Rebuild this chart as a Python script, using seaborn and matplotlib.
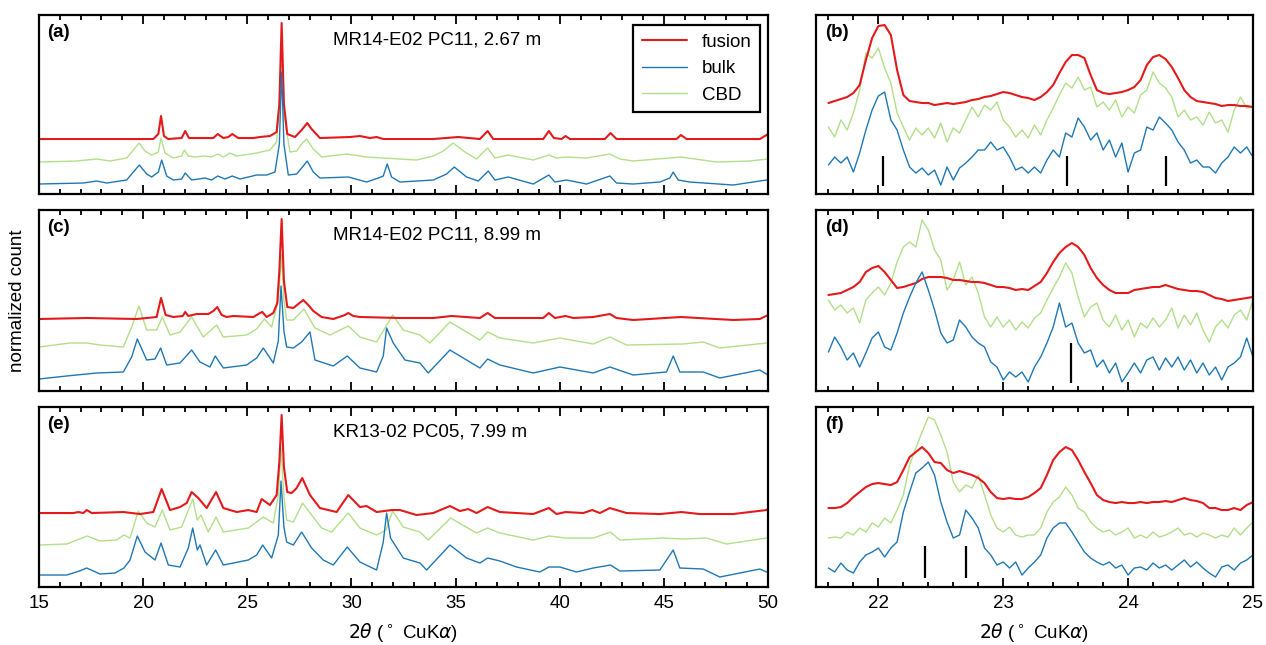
import numpy as np
import seaborn as sns
import matplotlib.pyplot as plt
from matplotlib.ticker import MultipleLocator
from matplotlib.lines import Line2D

sns.set_style("ticks")
plt.rcParams["font.family"] = ["Liberation Sans", "DejaVu Sans"]
plt.rcParams["font.size"] = 13.5
plt.rcParams["text.color"] = "black"
plt.rcParams["axes.labelcolor"] = "black"
plt.rcParams["xtick.color"] = "black"
plt.rcParams["ytick.color"] = "black"

# ---- full scans, (2theta, count) vertices ----
a_fusion = [(15.0, 55), (20.49, 55), (20.73, 60), (20.86, 78), (21.0, 58), (21.2, 55), (21.85, 56),
            (22.02, 63), (22.2, 56), (23.37, 56), (23.58, 60), (23.85, 56), (24.09, 57), (24.28, 60),
            (24.57, 56), (25.29, 56), (25.61, 57), (26.09, 58), (26.41, 62), (26.54, 90), (26.65, 171),
            (26.76, 90), (26.92, 60), (27.29, 57), (27.61, 64), (27.88, 71), (28.09, 65), (28.49, 56),
            (29.93, 57), (30.41, 58), (30.89, 56), (31.21, 57), (31.53, 55), (33.93, 55), (35.13, 57),
            (36.17, 55), (36.54, 63), (36.81, 55), (39.21, 55), (39.48, 63), (39.72, 56), (40.09, 55),
            (40.28, 58), (40.49, 55), (42.17, 55), (42.44, 61), (42.73, 55), (45.61, 55), (45.82, 59),
            (46.09, 55), (49.61, 55), (49.93, 59), (50.0, 60)]
a_cbd = [(15.0, 32), (16.81, 33), (17.77, 35), (18.41, 33), (19.21, 36), (19.61, 46), (19.8, 51),
         (20.09, 43), (20.41, 39), (20.73, 42), (20.86, 56), (21.05, 41), (21.45, 36), (21.85, 38),
         (21.98, 44), (22.17, 38), (22.49, 37), (22.97, 38), (23.29, 37), (23.58, 40), (23.85, 37),
         (24.17, 41), (24.49, 38), (25.45, 41), (26.09, 44), (26.41, 52), (26.57, 100), (26.65, 130),
         (26.76, 80), (27.05, 42), (27.37, 43), (27.61, 50), (27.85, 55), (28.17, 45), (28.57, 37),
         (29.77, 40), (30.73, 37), (33.13, 34), (33.93, 38), (34.41, 43), (34.89, 51), (35.45, 42),
         (36.01, 35), (36.54, 46), (36.89, 36), (37.53, 39), (38.73, 34), (39.48, 39), (39.85, 36),
         (40.28, 37), (41.29, 36), (42.41, 40), (42.89, 35), (43.53, 33), (45.82, 37), (47.53, 32),
         (49.13, 33), (50.0, 35)]
a_bulk = [(15.0, 10), (17.13, 11), (17.77, 13), (18.25, 11), (19.21, 14), (19.53, 22), (19.82, 29),
          (20.17, 20), (20.41, 17), (20.73, 22), (20.89, 34), (21.13, 18), (21.45, 14), (21.85, 15),
          (22.02, 21), (22.33, 14), (22.97, 16), (23.29, 14), (23.58, 18), (23.93, 15), (24.28, 18),
          (24.65, 15), (25.45, 19), (25.93, 19), (26.33, 22), (26.54, 50), (26.65, 122), (26.76, 50),
          (26.97, 19), (27.37, 20), (27.69, 28), (27.88, 33), (28.17, 22), (28.49, 16), (29.85, 17),
          (30.73, 12), (31.29, 16), (31.53, 18), (31.72, 30), (31.93, 17), (32.33, 12), (33.93, 14),
          (34.57, 20), (34.94, 27), (35.53, 17), (36.09, 13), (36.57, 23), (36.89, 14), (37.53, 17),
          (38.73, 10), (39.48, 19), (39.77, 12), (40.33, 14), (41.29, 10), (42.41, 18), (42.73, 11),
          (43.53, 10), (44.81, 12), (45.29, 16), (45.45, 22), (45.69, 14), (46.25, 12), (48.33, 9),
          (49.93, 14), (50.0, 14)]

c_fusion = [(15.0, 72), (17.29, 73), (19.69, 72), (20.65, 74), (20.86, 93), (21.08, 76), (21.45, 74),
            (21.9, 75), (22.02, 79), (22.17, 75), (22.57, 77), (23.13, 77), (23.37, 80), (23.56, 84),
            (23.77, 76), (24.01, 74), (24.33, 75), (25.29, 74), (25.61, 78), (25.72, 79), (25.93, 74),
            (26.25, 78), (26.44, 88), (26.54, 120), (26.65, 172), (26.76, 110), (26.92, 84), (27.21, 83),
            (27.45, 87), (27.69, 91), (27.93, 86), (28.17, 80), (28.57, 74), (29.13, 72), (29.69, 76),
            (29.85, 78), (30.09, 75), (30.41, 74), (32.33, 73), (33.93, 73), (34.81, 75), (36.17, 73),
            (36.54, 78), (36.89, 73), (39.21, 73), (39.48, 78), (39.77, 73), (40.28, 75), (40.65, 73),
            (41.61, 74), (42.41, 77), (42.73, 73), (43.53, 71), (45.82, 74), (48.33, 71), (49.61, 72),
            (50.0, 76)]
c_cbd = [(15.0, 44), (16.49, 48), (17.29, 48), (17.93, 46), (19.05, 44), (19.45, 64), (19.8, 85),
         (20.17, 61), (20.65, 61), (20.92, 74), (21.29, 56), (21.77, 59), (22.33, 74), (22.89, 54),
         (23.53, 66), (23.85, 54), (24.97, 56), (25.45, 62), (25.82, 72), (26.17, 64), (26.49, 91),
         (26.65, 136), (26.76, 90), (26.89, 71), (27.21, 71), (27.72, 82), (28.25, 63), (28.97, 56),
         (29.85, 65), (30.41, 54), (31.21, 49), (31.98, 76), (32.49, 61), (33.29, 56), (33.77, 48),
         (34.73, 69), (36.17, 51), (36.54, 59), (37.13, 53), (38.73, 48), (40.01, 53), (41.61, 47),
         (42.41, 54), (43.21, 46), (45.93, 47), (46.89, 49), (47.69, 43), (49.93, 48), (50.0, 48)]
c_bulk = [(15.0, 12), (16.33, 15), (17.77, 18), (19.05, 19), (19.45, 34), (19.72, 52), (20.17, 31),
          (20.57, 32), (20.84, 43), (21.13, 26), (21.77, 28), (22.33, 41), (22.73, 29), (23.21, 24),
          (23.46, 35), (23.85, 23), (24.97, 26), (25.45, 33), (25.77, 43), (26.25, 28), (26.49, 50),
          (26.62, 105), (26.76, 60), (26.89, 44), (27.21, 43), (27.61, 49), (28.01, 59), (28.25, 31),
          (29.13, 25), (29.8, 35), (30.41, 23), (31.21, 19), (31.53, 35), (31.69, 63), (32.01, 48),
          (32.57, 31), (33.29, 28), (33.69, 18), (34.73, 41), (36.17, 23), (36.54, 32), (37.13, 26),
          (38.73, 18), (40.01, 24), (41.61, 18), (42.41, 24), (43.53, 16), (45.13, 19), (45.45, 35),
          (45.77, 19), (46.89, 19), (47.69, 13), (49.61, 21), (50.0, 16)]

e_fusion = [(15.0, 74), (16.65, 74), (16.89, 75), (17.13, 74), (17.29, 77), (17.53, 74), (19.05, 75),
            (19.85, 73), (20.49, 75), (20.89, 98), (21.29, 77), (21.77, 80), (22.09, 84), (22.33, 95),
            (22.65, 89), (23.05, 79), (23.5, 95), (23.85, 79), (24.49, 75), (25.05, 77), (25.45, 75),
            (25.69, 88), (26.09, 82), (26.41, 92), (26.54, 125), (26.65, 172), (26.76, 120), (26.92, 95),
            (27.13, 94), (27.37, 99), (27.64, 109), (28.01, 92), (28.49, 79), (29.29, 75), (29.85, 92),
            (30.41, 80), (30.73, 81), (31.21, 75), (31.93, 77), (32.33, 77), (33.13, 72), (33.93, 74),
            (34.73, 81), (35.21, 76), (35.61, 78), (36.01, 74), (36.54, 80), (37.13, 75), (38.73, 73),
            (39.48, 79), (39.85, 73), (40.28, 75), (41.13, 74), (41.56, 77), (41.93, 74), (42.41, 79),
            (43.21, 74), (44.81, 73), (45.85, 75), (46.73, 73), (48.33, 73), (49.93, 77), (50.0, 78)]
e_cbd = [(15.0, 42), (16.33, 43), (16.94, 48), (17.32, 51), (17.93, 46), (18.73, 47), (19.08, 52),
         (19.37, 49), (19.77, 76), (20.17, 64), (20.57, 60), (20.92, 77), (21.29, 57), (21.85, 60),
         (22.38, 88), (22.6, 67), (22.78, 72), (23.13, 55), (23.5, 70), (23.85, 55), (25.05, 59),
         (25.77, 70), (26.25, 64), (26.49, 92), (26.62, 139), (26.76, 90), (26.89, 67), (27.21, 65),
         (27.66, 84), (28.09, 72), (28.57, 59), (29.05, 55), (29.85, 74), (30.41, 59), (31.21, 52),
         (31.66, 57), (31.98, 76), (32.49, 60), (33.29, 55), (33.69, 47), (34.76, 69), (36.01, 54),
         (36.54, 59), (37.13, 54), (38.73, 47), (39.48, 51), (40.33, 49), (41.61, 49), (42.44, 55),
         (42.89, 47), (44.97, 49), (45.93, 48), (47.05, 49), (48.01, 43), (49.93, 49), (50.0, 49)]
e_bulk = [(15.0, 12), (16.33, 12), (16.94, 16), (17.29, 19), (17.93, 13), (18.65, 14), (19.08, 19),
          (19.37, 27), (19.72, 51), (20.09, 35), (20.57, 27), (20.86, 44), (21.21, 22), (21.77, 20),
          (22.17, 39), (22.38, 59), (22.6, 37), (22.73, 42), (23.05, 22), (23.48, 37), (23.85, 22),
          (25.05, 27), (25.45, 32), (25.74, 42), (26.17, 29), (26.49, 52), (26.62, 106), (26.76, 60),
          (26.89, 45), (27.21, 42), (27.61, 55), (28.09, 39), (28.65, 27), (29.13, 22), (29.8, 40),
          (30.41, 25), (31.21, 17), (31.53, 45), (31.69, 74), (31.88, 49), (32.49, 29), (33.29, 24),
          (33.61, 17), (34.73, 42), (35.53, 29), (36.17, 24), (36.54, 29), (37.13, 26), (37.93, 20),
          (39.05, 15), (39.48, 20), (40.01, 20), (40.81, 15), (41.61, 19), (42.44, 22), (42.89, 16),
          (44.81, 17), (45.45, 37), (45.77, 19), (46.89, 18), (47.69, 10), (49.61, 18), (49.93, 15),
          (50.0, 15)]

# ---- zoomed region 21.6-25.0 deg, sampled every 0.05 deg ----
theta_zoom = np.round(np.arange(21.6, 25.001, 0.05), 2)

b_fusion = [91, 93, 95, 97, 101, 109, 134, 156, 168, 169,
            159, 124, 99, 93, 92, 91, 91, 89, 90, 91,
            90, 91, 92, 94, 95, 97, 98, 100, 102, 101,
            99, 97, 96, 94, 97, 102, 109, 121, 132, 139,
            139, 136, 119, 104, 101, 100, 101, 102, 104, 107,
            114, 129, 137, 139, 135, 127, 116, 104, 97, 93,
            92, 91, 90, 88, 89, 89, 88, 88, 87]
b_cbd = [67, 57, 74, 64, 81, 104, 141, 136, 146, 126,
         111, 81, 67, 54, 66, 59, 66, 56, 71, 52,
         66, 61, 74, 87, 77, 89, 84, 92, 74, 67,
         57, 64, 56, 69, 59, 74, 86, 99, 111, 106,
         117, 104, 107, 87, 92, 84, 94, 77, 87, 81,
         99, 104, 122, 111, 106, 97, 77, 84, 74, 77,
         69, 82, 71, 74, 62, 84, 97, 86, 87]
b_bulk = [29, 37, 31, 37, 22, 41, 64, 84, 98, 102,
          74, 64, 44, 27, 21, 26, 19, 24, 9, 27,
          14, 26, 31, 37, 44, 44, 52, 44, 47, 37,
          24, 27, 21, 27, 21, 34, 44, 37, 61, 57,
          76, 67, 54, 61, 44, 54, 37, 51, 22, 41,
          44, 67, 64, 77, 71, 64, 52, 44, 31, 34,
          27, 27, 21, 31, 37, 47, 41, 47, 37]

d_fusion = [96, 97, 98, 101, 104, 109, 119, 123, 125, 119,
            111, 103, 104, 106, 108, 112, 114, 114, 114, 113,
            111, 111, 110, 109, 109, 108, 106, 104, 104, 103,
            101, 102, 101, 105, 109, 118, 129, 138, 144, 148,
            144, 136, 123, 113, 106, 101, 98, 98, 98, 101,
            102, 103, 104, 104, 106, 104, 102, 101, 100, 100,
            99, 96, 93, 92, 90, 91, 92, 93, 94]
d_cbd = [91, 81, 86, 78, 83, 68, 91, 98, 104, 96,
         108, 129, 144, 149, 144, 171, 161, 141, 131, 101,
         111, 129, 106, 114, 98, 74, 64, 74, 64, 71,
         61, 69, 63, 73, 78, 91, 103, 114, 128, 118,
         94, 74, 84, 88, 71, 64, 76, 61, 71, 54,
         68, 63, 73, 64, 71, 83, 63, 76, 66, 78,
         61, 49, 64, 71, 63, 76, 81, 71, 91]
d_bulk = [39, 54, 44, 31, 38, 24, 38, 53, 59, 44,
          41, 58, 78, 94, 108, 119, 101, 81, 58, 48,
          51, 71, 64, 54, 48, 44, 29, 24, 11, 19,
          14, 19, 9, 24, 34, 48, 64, 88, 64, 68,
          48, 38, 41, 24, 31, 18, 28, 9, 18, 28,
          18, 31, 34, 21, 33, 24, 34, 21, 31, 18,
          28, 16, 24, 11, 24, 28, 34, 53, 34]

f_fusion = [79, 79, 80, 84, 90, 95, 100, 103, 104, 103,
            102, 105, 117, 130, 135, 140, 134, 125, 124, 117,
            114, 116, 114, 112, 109, 104, 95, 89, 88, 89,
            88, 88, 90, 94, 99, 112, 127, 135, 140, 137,
            127, 115, 104, 92, 87, 85, 84, 85, 84, 84,
            85, 84, 85, 85, 86, 85, 87, 89, 87, 86,
            84, 79, 79, 77, 77, 79, 77, 82, 85]
f_cbd = [49, 50, 49, 55, 52, 59, 55, 64, 60, 69,
         64, 77, 92, 122, 139, 155, 170, 167, 152, 135,
         105, 95, 102, 99, 112, 92, 72, 59, 55, 60,
         52, 50, 52, 52, 59, 75, 85, 90, 100, 92,
         79, 75, 65, 59, 55, 57, 52, 55, 59, 49,
         52, 49, 55, 50, 52, 55, 59, 52, 54, 50,
         54, 52, 49, 52, 50, 59, 52, 59, 65]
f_bulk = [19, 15, 24, 17, 14, 25, 32, 35, 39, 30,
          39, 45, 75, 95, 114, 119, 125, 112, 85, 65,
          49, 52, 77, 69, 59, 39, 32, 22, 25, 19,
          25, 12, 19, 25, 32, 49, 59, 64, 64, 55,
          45, 35, 29, 25, 22, 25, 19, 22, 12, 19,
          20, 17, 24, 19, 22, 17, 22, 27, 20, 25,
          19, 14, 10, 20, 22, 17, 24, 27, 32]

# reference peak positions marked in the zooms
b_marks = [22.04, 23.51, 24.30]
d_marks = [23.54]
f_marks = [22.37, 22.70]

samples = ["MR14-E02 PC11, 2.67 m", "MR14-E02 PC11, 8.99 m", "KR13-02 PC05, 7.99 m"]
left_labels = ["(a)", "(c)", "(e)"]
right_labels = ["(b)", "(d)", "(f)"]

RED, BLUE, GREEN = "#e31a1c", "#1f78b4", "#b2df8a"

fig = plt.figure(figsize=(12.66, 6.45), dpi=100)
rows = [(0.6992, 0.2775, 179), (0.3938, 0.2806, 181), (0.0899, 0.2790, 180)]
full = [(a_fusion, a_bulk, a_cbd), (c_fusion, c_bulk, c_cbd), (e_fusion, e_bulk, e_cbd)]
zoom = [(b_fusion, b_bulk, b_cbd), (d_fusion, d_bulk, d_cbd), (f_fusion, f_bulk, f_cbd)]
marks = [(b_marks, 8, 38), (d_marks, 8, 48), (f_marks, 9, 41)]


def style(ax, ymax, major, minor):
    ax.set_ylim(0, ymax)
    ax.set_yticks([])
    ax.set_ylabel("")
    ax.set_xlabel("")
    ax.xaxis.set_major_locator(MultipleLocator(major))
    ax.xaxis.set_minor_locator(MultipleLocator(minor))
    ax.tick_params(axis="x", which="both", direction="in", top=True, bottom=True,
                   width=1.3, pad=6, labelsize=13.5, colors="black")
    ax.tick_params(axis="x", which="major", length=6.5)
    ax.tick_params(axis="x", which="minor", length=3.5)
    for s in ax.spines.values():
        s.set_linewidth(1.6)
        s.set_color("black")


axes_left = []
for i, (bot, h, ymax) in enumerate(rows):
    axl = fig.add_axes([0.0308, bot, 0.5758, h])
    axr = fig.add_axes([0.6445, bot, 0.3452, h])
    fus, blk, cbd = full[i]
    for pts, col, lw in [(cbd, GREEN, 1.0), (fus, RED, 1.5), (blk, BLUE, 1.0)]:
        xs, ys = zip(*pts)
        sns.lineplot(x=list(xs), y=list(ys), ax=axl, color=col, lw=lw,
                     estimator=None, sort=False)
    fus, blk, cbd = zoom[i]
    for vals, col, lw in [(cbd, GREEN, 1.0), (fus, RED, 1.5), (blk, BLUE, 1.0)]:
        sns.lineplot(x=theta_zoom, y=vals, ax=axr, color=col, lw=lw,
                     estimator=None, sort=False)
    pos, y0, y1 = marks[i]
    axr.vlines(pos, y0, y1, color="black", lw=1.6)

    axl.set_xlim(15, 50)
    axr.set_xlim(21.5, 25)
    style(axl, ymax, 5, 1)
    style(axr, ymax, 1, 0.2)
    axl.text(0.011, 0.95, left_labels[i], transform=axl.transAxes, ha="left", va="top",
             fontweight="bold", fontsize=13.5, color="black")
    axr.text(0.022, 0.95, right_labels[i], transform=axr.transAxes, ha="left", va="top",
             fontweight="bold", fontsize=13.5, color="black")
    axl.text(0.403, 0.86, samples[i], transform=axl.transAxes, ha="left", va="center",
             fontsize=13.5, color="black")
    if i < 2:
        axl.tick_params(axis="x", labelbottom=False)
        axr.tick_params(axis="x", labelbottom=False)
    else:
        xl = r"$2\theta$ ($^\circ$ CuK$\alpha$)"
        axl.set_xlabel(xl, fontsize=13.5, labelpad=6, color="black")
        axr.set_xlabel(xl, fontsize=13.5, labelpad=6, color="black")
    axes_left.append(axl)

axes_left[1].set_ylabel("normalized count", fontsize=13.5, labelpad=9, color="black")

handles = [Line2D([], [], color=RED, lw=1.5), Line2D([], [], color=BLUE, lw=1.0),
           Line2D([], [], color=GREEN, lw=1.0)]
leg = axes_left[0].legend(handles, ["fusion", "bulk", "CBD"], loc="upper right",
                          bbox_to_anchor=(0.989, 0.944), borderaxespad=0, fancybox=False,
                          edgecolor="black", framealpha=1, handlelength=2.4,
                          labelspacing=0.5, fontsize=13.5, borderpad=0.45)
leg.get_frame().set_linewidth(1.6)
for t in leg.get_texts():
    t.set_color("black")

plt.savefig("out.png", dpi=100)
